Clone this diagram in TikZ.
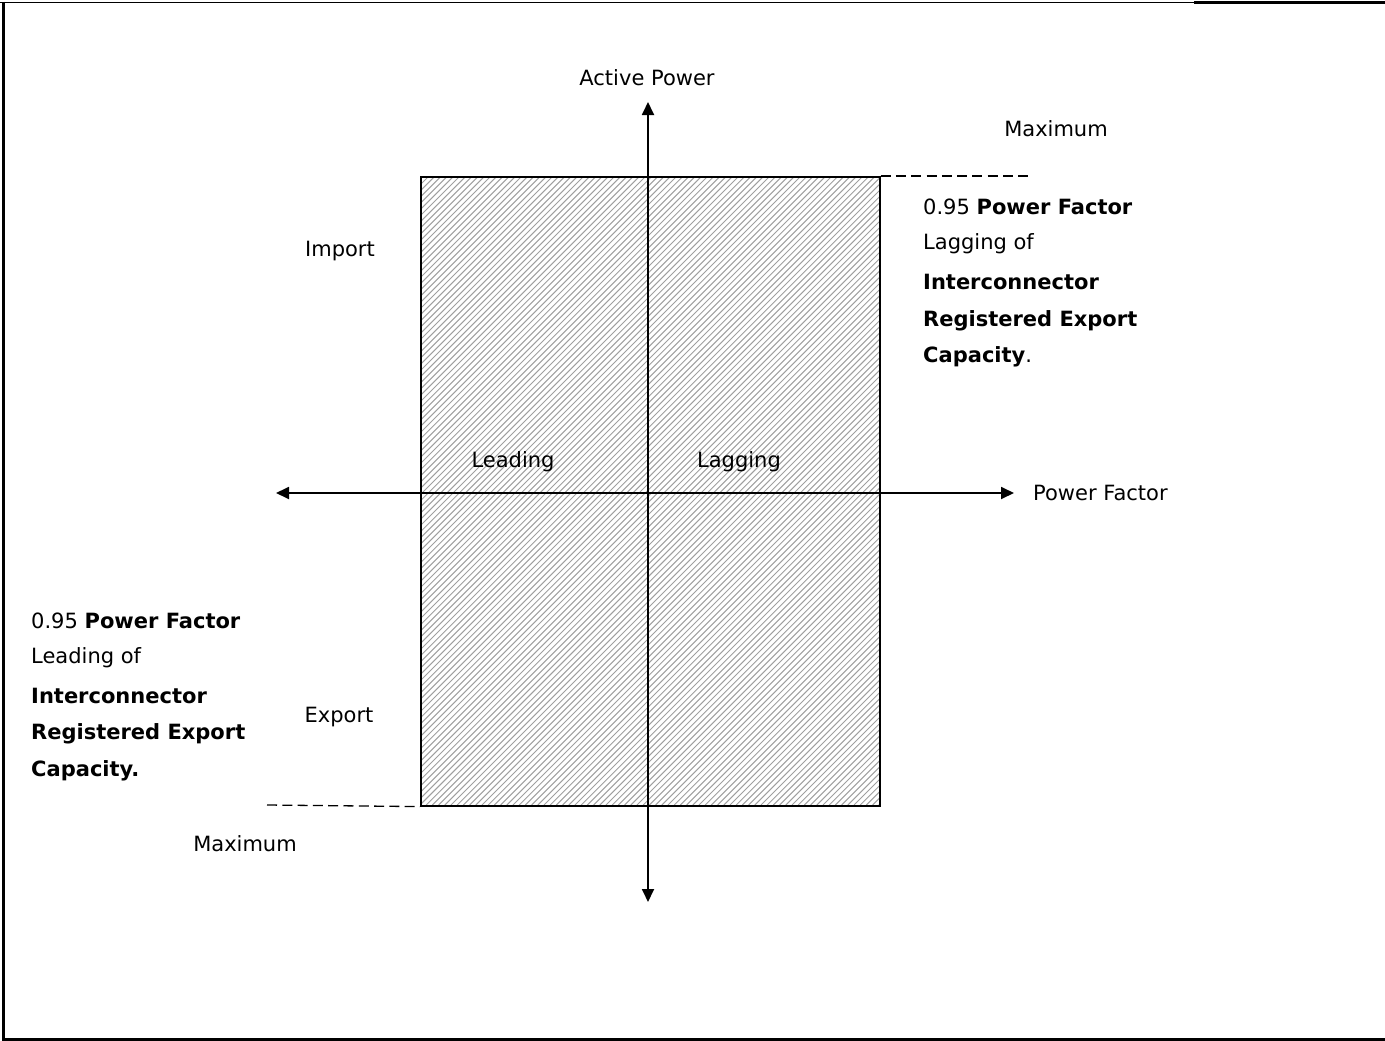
\documentclass[tikz,border=0pt]{standalone}
\usepackage{fontspec}
\setmainfont{DejaVu Sans}
\usetikzlibrary{arrows.meta}
\begin{document}
\begin{tikzpicture}[x=1pt,y=-1pt,
  lbl/.style={font=\fontsize{21}{25}\selectfont, inner sep=0pt},
  axis/.style={line width=1.8pt, -{Triangle[length=13pt,width=12pt]}},
  dashline/.style={line width=1.3pt, dash pattern=on 10pt off 5.3pt},
  hatch/.style={gray!75, line width=1pt}]
\useasboundingbox (0,0) rectangle (1385,1041);
% frame
\draw[line width=1pt] (0,2.5) -- (1194,2.5);
\draw[line width=2.5pt] (1194,2.5) -- (1385,2.5);
\draw[line width=2.5pt] (3.5,2) -- (3.5,1039.5) -- (1385,1039.5);
% hatched box
\begin{scope}
\clip (420,176) rectangle (879,805);
\foreach \i in {0,6.2,...,1100} {
  \draw[hatch] (420+\i,805) -- (420+\i+700,105);
  \draw[hatch] (420-\i,805) -- (420-\i+700,105);
}
\end{scope}
\node[draw, line width=1.6pt, minimum width=459pt, minimum height=629pt, anchor=north west, inner sep=0pt] (box) at (420,176) {};
% axes
\coordinate (yb) at (648,902);
\coordinate (yt) at (648,102);
\coordinate (xl) at (276,493);
\coordinate (xr) at (1014,493);
\coordinate (o) at (648,493);
\draw[axis] (o) -- (yt);
\draw[axis] (o) -- (yb);
\draw[axis] (o) -- (xl);
\draw[axis] (o) -- (xr);
% dashed
\coordinate (dtr) at (1032,176);
\coordinate (dbl) at (267,805);
\draw[dashline] (box.north east) -- (dtr);
\draw[dashline] (dbl) -- (box.south west);
% labels
\node[lbl] (ap) at (647,78) {Active Power};
\node[lbl] (mx1) at (1056,129) {Maximum};
\node[lbl] (imp) at (340,251) {Import};
\node[lbl] (exp) at (339,717) {Export};
\node[lbl] (lead) at (513,462) {Leading};
\node[lbl] (lag) at (739,462) {Lagging};
\node[lbl, anchor=west] (pf) at (1033,493) {Power Factor};
\node[lbl] (mx2) at (245,844) {Maximum};
% right block
\node[lbl, anchor=west] (r1) at (923,207) {0.95 \textbf{Power Factor}};
\node[lbl, anchor=west] (r2) at (923,244) {Lagging of};
\node[lbl, anchor=west] (r3) at (923,282) {\textbf{Interconnector}};
\node[lbl, anchor=west] (r4) at (923,321) {\textbf{Registered Export}};
\node[lbl, anchor=west] (r5) at (923,357) {\textbf{Capacity}.};
% left block
\node[lbl, anchor=west] (l1) at (31,621) {0.95 \textbf{Power Factor}};
\node[lbl, anchor=west] (l2) at (31,658) {Leading of};
\node[lbl, anchor=west] (l3) at (31,696) {\textbf{Interconnector}};
\node[lbl, anchor=west] (l4) at (31,734) {\textbf{Registered Export}};
\node[lbl, anchor=west] (l5) at (31,771) {\textbf{Capacity.}};
\end{tikzpicture}
\end{document}
